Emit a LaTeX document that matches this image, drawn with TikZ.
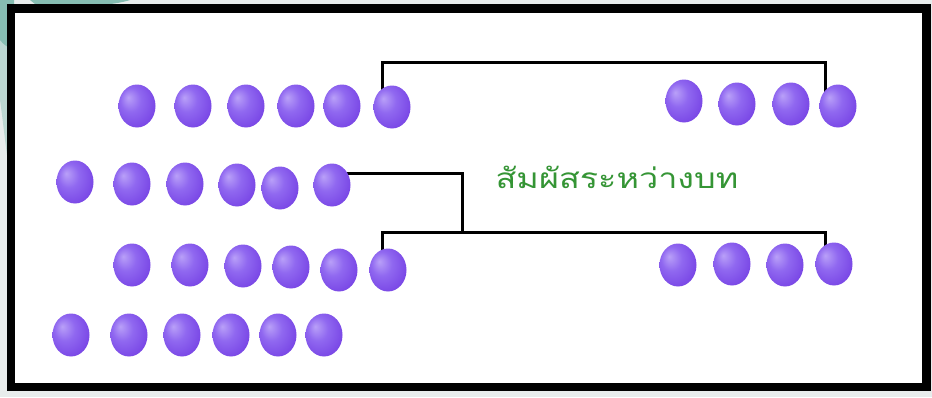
\documentclass[tikz,border=0pt]{standalone}
\usepackage{fontspec}
\newfontfamily\thaifont[Script=Thai]{Loma}
\usetikzlibrary{shapes.geometric}
\pgfdeclarelayer{back}
\pgfdeclarelayer{lines}
\pgfsetlayers{back,lines,main}
\definecolor{outerbg}{HTML}{E8ECEC}
\definecolor{leaf}{HTML}{86BDB2}
\definecolor{labelgreen}{HTML}{359535}
\definecolor{pA}{HTML}{B9A0F8}
\definecolor{pB}{HTML}{9068F0}
\definecolor{pC}{HTML}{7A48E6}
\definecolor{pD}{HTML}{6234C4}
\pgfdeclareradialshading{purpball}{\pgfpoint{-12bp}{10bp}}{color(0bp)=(pA); color(14bp)=(pB); color(30bp)=(pC); color(44bp)=(pD); color(50bp)=(pD)}
\tikzset{
  ball/.style={ellipse, minimum width=37pt, minimum height=43pt, inner sep=0pt, shading=purpball, draw=none},
  conn/.style={draw=black, line width=3pt},
  frame/.style={draw=black, line width=8.5pt, fill=white},
  lbl/.style={text=labelgreen, font=\thaifont\fontsize{28pt}{32pt}\selectfont, inner sep=0pt}
}
\begin{document}
\begin{tikzpicture}[x=1pt,y=-1pt]
\useasboundingbox (0,0) rectangle (932,397);
\begin{pgfonlayer}{back}
\fill[outerbg] (0,0) rectangle (932,397);
\fill[leaf!45!outerbg] (0,40) -- (14,40) -- (14,200) .. controls (8,170) and (3,120) .. (0,100) -- cycle;
\fill[leaf] (0,0) -- (14,0) -- (14,50) .. controls (8,48) and (3,44) .. (0,40) -- cycle;
\fill[leaf] (30,0) -- (130,0) .. controls (115,5) and (80,8) .. (40,8) -- cycle;
\draw[frame] (11,8.5) rectangle (926.5,387);
\end{pgfonlayer}
% balls
\foreach \x/\y [count=\i] in {137/106,193/106,246/106,296/106,342/106,392/107}
  \node[ball] (r1c\i) at (\x,\y) {};
\foreach \x/\y [count=\i] in {684/101,737/104,791/104,838/106}
  \node[ball] (r1r\i) at (\x,\y) {};
\foreach \x/\y [count=\i] in {75/182,132/184,185/184,237/185,280/188,332/185}
  \node[ball] (r2c\i) at (\x,\y) {};
\foreach \x/\y [count=\i] in {132/265,190/265,243/266,291/267,339/270,388/270}
  \node[ball] (r3c\i) at (\x,\y) {};
\foreach \x/\y [count=\i] in {678/265,732/264,785/265,834/264}
  \node[ball] (r3r\i) at (\x,\y) {};
\foreach \x/\y [count=\i] in {71/335,129/335,182/335,231/335,278/335,324/335}
  \node[ball] (r4c\i) at (\x,\y) {};
% label
\node[lbl] (label) at (617,177) {\scalebox{1.22}[1]{สัมผัสระหว่างบท}};
% junction coordinates
\coordinate (topbar) at (600,62);
\coordinate (jn) at (462,232);
% connectors (drawn under the balls)
\begin{pgfonlayer}{lines}
\draw[conn] ([xshift=-10pt]r1c6.center) |- (topbar) -| ([xshift=-13pt]r1r4.center);
\draw[conn] ([yshift=12pt]r2c6.center) -| (jn);
\draw[conn] ([xshift=-6pt]r3c6.center) |- (jn) -| ([xshift=-9pt]r3r4.center);
\end{pgfonlayer}
\end{tikzpicture}
\end{document}
